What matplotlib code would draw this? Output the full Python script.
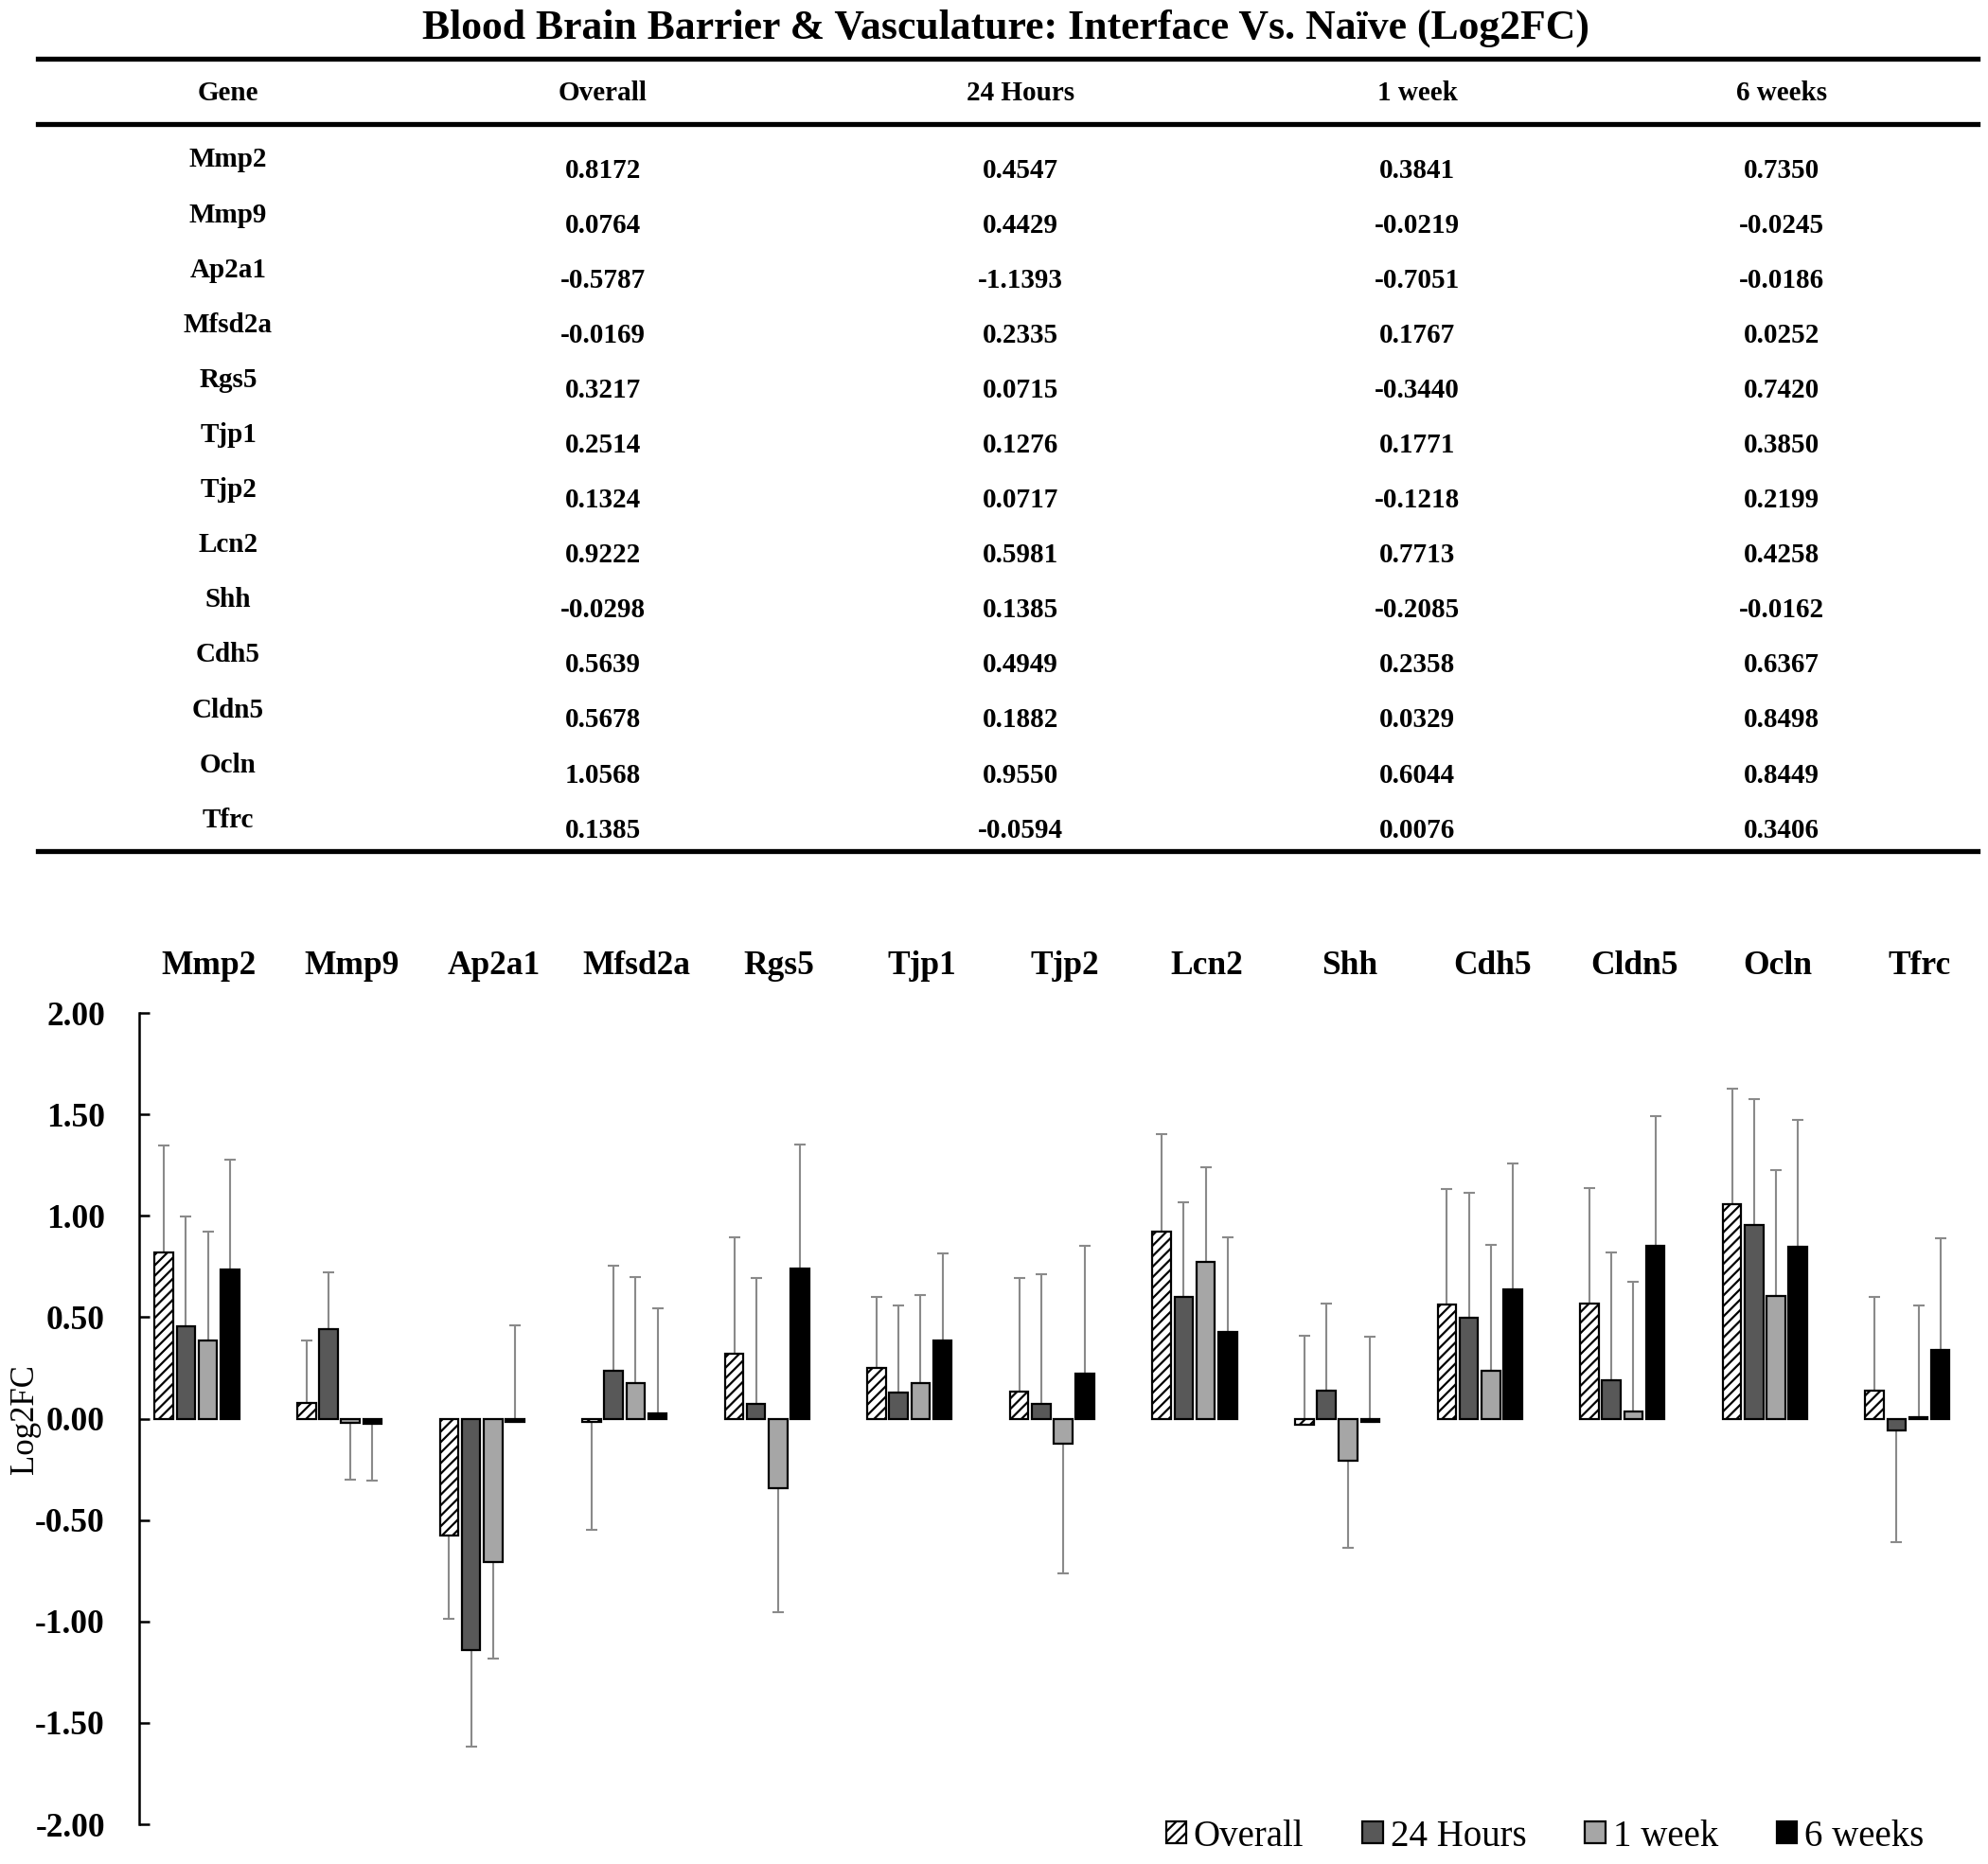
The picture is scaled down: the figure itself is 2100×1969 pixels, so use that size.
import numpy as np
import matplotlib
matplotlib.use("Agg")
import matplotlib.pyplot as plt
import matplotlib.transforms as mtransforms
from matplotlib.lines import Line2D

plt.rcParams['font.family'] = ['Liberation Serif', 'DejaVu Serif']
plt.rcParams['axes.unicode_minus'] = False
plt.rcParams['hatch.linewidth'] = 1.6

# ---------------- data ----------------
genes = ["Mmp2", "Mmp9", "Ap2a1", "Mfsd2a", "Rgs5", "Tjp1", "Tjp2",
         "Lcn2", "Shh", "Cdh5", "Cldn5", "Ocln", "Tfrc"]
series = ["Overall", "24 Hours", "1 week", "6 weeks"]

overall = [0.8172, 0.0764, -0.5787, -0.0169, 0.3217, 0.2514, 0.1324,
           0.9222, -0.0298, 0.5639, 0.5678, 1.0568, 0.1385]
h24 = [0.4547, 0.4429, -1.1393, 0.2335, 0.0715, 0.1276, 0.0717,
       0.5981, 0.1385, 0.4949, 0.1882, 0.9550, -0.0594]
wk1 = [0.3841, -0.0219, -0.7051, 0.1767, -0.3440, 0.1771, -0.1218,
       0.7713, -0.2085, 0.2358, 0.0329, 0.6044, 0.0076]
wk6 = [0.7350, -0.0245, -0.0186, 0.0252, 0.7420, 0.3850, 0.2199,
       0.4258, -0.0162, 0.6367, 0.8498, 0.8449, 0.3406]

# one-sided error bars (signed: + drawn upward, - drawn downward)
err_overall = [0.53, 0.31, -0.41, -0.53, 0.57, 0.35, 0.56,
               0.48, 0.44, 0.57, 0.57, 0.57, 0.46]
err_h24 = [0.54, 0.28, -0.48, 0.52, 0.62, 0.43, 0.64,
           0.47, 0.43, 0.62, 0.63, 0.62, -0.55]
err_wk1 = [0.54, -0.28, -0.48, 0.52, -0.61, 0.43, -0.64,
           0.47, -0.43, 0.62, 0.64, 0.62, 0.55]
err_wk6 = [0.54, -0.28, 0.48, 0.52, 0.61, 0.43, 0.63,
           0.47, 0.42, 0.62, 0.64, 0.63, 0.55]

values = [overall, h24, wk1, wk6]
errors = [err_overall, err_h24, err_wk1, err_wk6]

yticks = [-2.0, -1.5, -1.0, -0.5, 0.0, 0.5, 1.0, 1.5, 2.0]

title = "Blood Brain Barrier & Vasculature: Interface Vs. Naïve (Log2FC)"
header = ["Gene", "Overall", "24 Hours", "1 week", "6 weeks"]

# ---------------- figure ----------------
W, H = 2100, 1969
fig = plt.figure(figsize=(W / 100, H / 100), dpi=100)


def fx(px):
    return px / W


def fy(py):
    return 1 - py / H


# ---- title & table ----
fig.text(fx(1062), fy(30), title, ha='center', va='center',
         fontsize=31.5, fontweight='bold')

for yy in (62, 131, 899):
    fig.add_artist(Line2D([fx(40), fx(2089)], [fy(yy), fy(yy)],
                          transform=fig.transFigure, color='black', lw=3.8))

col_x = [241, 637, 1078, 1497, 1882]
for cx, h in zip(col_x, header):
    fig.text(fx(cx), fy(98), h, ha='center', va='center',
             fontsize=21, fontweight='bold')

row0, step = 169, 58.1
for i, g in enumerate(genes):
    yg = row0 + i * step
    fig.text(fx(col_x[0]), fy(yg), g, ha='center', va='center',
             fontsize=21, fontweight='bold')
    for j, vals in enumerate(values):
        fig.text(fx(col_x[j + 1]), fy(yg + 11), f"{vals[i]:.4f}",
                 ha='center', va='center', fontsize=21, fontweight='bold')

# ---- bar chart ----
ax_left, ax_right = 147, 2100
ax = fig.add_axes([fx(ax_left), fy(1927), fx(ax_right - ax_left),
                   (1927 - 1070) / H])

x = np.arange(len(genes))
pitch = 0.154
width = 0.13
faces = ['white', '#585858', '#a6a6a6', '#000000']
hatches = ['///', None, None, None]

handles = []
for k in range(4):
    xs = x + (k - 1.5) * pitch
    v = np.array(values[k])
    e = np.array(errors[k])
    lower = np.where(e < 0, -e, 0)
    upper = np.where(e > 0, e, 0)
    ax.errorbar(xs, v, yerr=[lower, upper], fmt='none', ecolor='#8a8a8a',
                elinewidth=1.5, capsize=4, capthick=1.5, zorder=1)
    b = ax.bar(xs, v, width=width, color=faces[k], edgecolor='black',
               linewidth=1.6, hatch=hatches[k], zorder=2, label=series[k])
    handles.append(b)

ax.set_xlim(-0.405, 12.565)
ax.set_ylim(-2.0, 2.0)
ax.set_yticks(yticks)
ax.set_yticklabels([f"{t:.2f}" for t in yticks], fontsize=25.5,
                   fontweight='bold')
ax.tick_params(axis='y', direction='in', length=8, width=1.8, pad=26)
ax.set_xticks([])
for s in ('top', 'right', 'bottom'):
    ax.spines[s].set_visible(False)
ax.spines['left'].set_linewidth(1.8)
ax.patch.set_alpha(0)

# y-axis title
fig.text(fx(26), fy(1499), "Log2FC", rotation=90, ha='center', va='center',
         fontsize=25)

trans = mtransforms.blended_transform_factory(ax.transData, fig.transFigure)
for i, g in enumerate(genes):
    ax.text(x[i] + 0.086, fy(1020), g, transform=trans, ha='center',
            va='center', fontsize=25.5, fontweight='bold')

fig.legend(handles=handles, labels=series, loc='center',
           bbox_to_anchor=(fx(1632), fy(1940)), ncol=4, frameon=False,
           fontsize=28, handlelength=0.55, handleheight=0.55,
           handletextpad=0.2, columnspacing=1.6, borderpad=0)

fig.savefig("out.png", dpi=100)
